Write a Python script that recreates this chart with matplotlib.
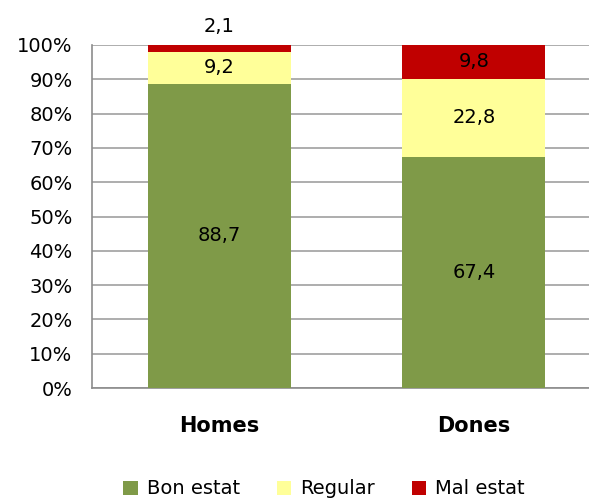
import matplotlib
matplotlib.use("Agg")
import matplotlib.pyplot as plt
import numpy as np

categories = ["Homes", "Dones"]
series_names = ["Bon estat", "Regular", "Mal estat"]
bon = [88.7, 67.4]
regular = [9.2, 22.8]
mal = [2.1, 9.8]
colors = ["#7F9A48", "#FFFF99", "#C00000"]
yticks = [0, 10, 20, 30, 40, 50, 60, 70, 80, 90, 100]

plt.rcParams['font.family'] = ['DejaVu Sans']
fig = plt.figure(figsize=(5.89, 4.99), dpi=100)
W, H = 589, 499
ax = fig.add_axes([92 / W, 1 - 388 / H, (589 - 92) / W, (388 - 45) / H])

FS = 14
x = np.arange(len(categories))
width = 0.56
bottoms = np.zeros(len(categories))
series = [bon, regular, mal]
for name, vals, c in zip(series_names, series, colors):
    vals = np.array(vals)
    ax.bar(x, vals, width, bottom=bottoms, color=c, label=name, zorder=3)
    for xi, v, b in zip(x, vals, bottoms):
        txt = f"{v:.1f}".replace(".", ",")
        if v < 5:
            ax.text(xi, b + v + 2.5, txt, ha="center", va="bottom", fontsize=FS, clip_on=False)
        else:
            ax.text(xi, b + v / 2, txt, ha="center", va="center", fontsize=FS, zorder=4)
    bottoms = bottoms + vals

ax.set_xlim(-0.5, (589 - 92) / 254.5 - 0.5)
ax.set_ylim(0, 100)
ax.set_yticks(yticks)
ax.set_yticklabels([f"{t}%" for t in yticks], fontsize=FS)
ax.set_xticks(x)
ax.set_xticklabels(categories, fontsize=15, fontweight="bold")
ax.tick_params(axis="x", length=0, pad=20)
ax.tick_params(axis="y", length=0, pad=14)
ax.grid(axis="y", color="#A0A0A0", linewidth=1.2, zorder=0)
for s in ["top", "right"]:
    ax.spines[s].set_visible(False)
for s in ["left", "bottom"]:
    ax.spines[s].set_color("#8C8C8C")
    ax.spines[s].set_linewidth(1.2)
    ax.spines[s].set_zorder(2)

handles, labels = ax.get_legend_handles_labels()
fig.legend(handles, labels, loc="center", bbox_to_anchor=(324 / W, 1 - 489 / H), ncol=3,
           frameon=False, fontsize=FS, handlelength=0.75, handleheight=0.75,
           handletextpad=0.45, columnspacing=1.9)

fig.savefig("out.png", dpi=100)
